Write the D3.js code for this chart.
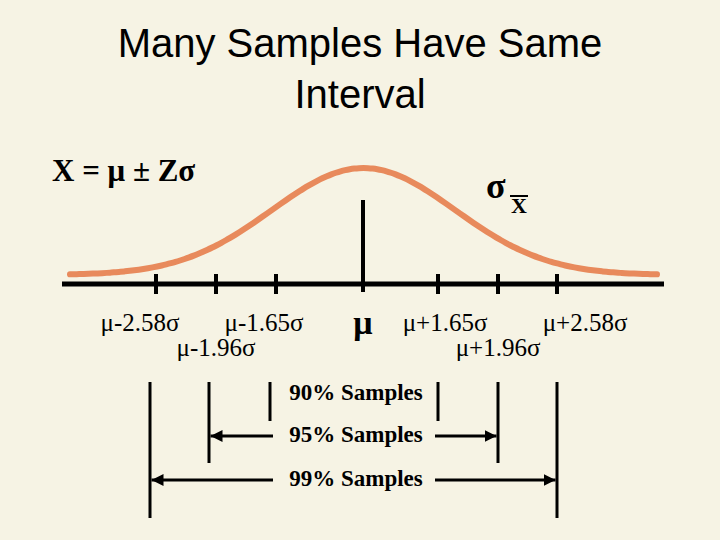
<!DOCTYPE html><html><head><meta charset="utf-8"><script src="https://cdn.jsdelivr.net/npm/d3@7"></script>
<style>body{margin:0;background:#f6f3e4}</style></head><body><svg id="c" width="720" height="540"></svg><script>
const zTicks=[-2.58,-1.96,-1.65,0,1.65,1.96,2.58];
const tickPix=[156,216,276,363,438,498,557];
const labels=[{t:"μ-2.58σ",z:-2.58,row:0,dx:-16},{t:"μ-1.96σ",z:-1.96,row:1,dx:0},{t:"μ-1.65σ",z:-1.65,row:0,dx:-12},{t:"μ+1.65σ",z:1.65,row:0,dx:7},{t:"μ+1.96σ",z:1.96,row:1,dx:0},{t:"μ+2.58σ",z:2.58,row:0,dx:28}];
const intervals=[{p:"90% Samples",z:1.65,b:400,bottom:421,arrow:false},{p:"95% Samples",z:1.96,b:442,bottom:463,arrow:true},{p:"99% Samples",z:2.58,b:486,bottom:518,arrow:true}];
const svg=d3.select("#c");
svg.append("rect").attr("width",720).attr("height",540).attr("fill","#f6f3e4");
const defs=svg.append("defs");
defs.append("marker").attr("id","ar").attr("viewBox","0 0 10 10").attr("refX",10).attr("refY",5).attr("markerWidth",4).attr("markerHeight",4).attr("orient","auto-start-reverse").append("path").attr("d","M0,0L10,5L0,10z").attr("fill","#000");
const x=d3.scaleLinear().domain(zTicks).range(tickPix);
const xc=d3.scaleLinear().domain([-3.2,3.2]).range([70,657]);
const pdf=z=>Math.exp(-z*z/2);
const yc=d3.scaleLinear().domain([0,1]).range([275,168]);
const pts=d3.range(-3.2,3.2001,0.05);
svg.append("path").datum(pts).attr("d",d3.line().x(z=>xc(z)).y(z=>yc(pdf(z))).curve(d3.curveBasis)).attr("fill","none").attr("stroke","#e88a5c").attr("stroke-width",6).attr("stroke-linecap","round");
const ay=284;
svg.append("line").attr("x1",62).attr("x2",664).attr("y1",ay).attr("y2",ay).attr("stroke","#000").attr("stroke-width",5);
zTicks.forEach(z=>{if(z===0)svg.append("line").attr("x1",x(0)).attr("x2",x(0)).attr("y1",200).attr("y2",292).attr("stroke","#000").attr("stroke-width",4);
 else svg.append("line").attr("x1",x(z)).attr("x2",x(z)).attr("y1",274).attr("y2",294).attr("stroke","#000").attr("stroke-width",4);});
const T=(s,xx,yy,size,anchor,fam,w)=>svg.append("text").attr("x",xx).attr("y",yy).attr("font-size",size).attr("text-anchor",anchor||"middle").attr("font-family",fam||"Liberation Serif").attr("font-weight",w||"normal").text(s);
T("Many Samples Have Same",360,57,40,"middle","Liberation Sans");
T("Interval",360,108,40,"middle","Liberation Sans");
T("X = μ ± Zσ",52,181,31,"start","Liberation Serif","bold");
T("σ",486,198,36,"start","Liberation Serif","bold");
T("X",511,213,22,"start","Liberation Serif","bold");
svg.append("line").attr("x1",510).attr("x2",528).attr("y1",196).attr("y2",196).attr("stroke","#000").attr("stroke-width",2);
labels.forEach(l=>T(l.t,x(l.z)+l.dx,l.row?356:331,25,"middle","Liberation Serif"));
T("μ",x(0),334,34,"middle","Liberation Serif","bold");
intervals.forEach(iv=>{
 T(iv.p,x(0)-7,iv.b,23,"middle","Liberation Serif","bold");
 [-1,1].forEach(s=>{const xx=x(s*iv.z)+(s<0&&iv.z===1.65?-6:0)+(s<0&&iv.z===1.96?-7:0)+(s<0&&iv.z===2.58?-6:0);
  svg.append("line").attr("x1",xx).attr("x2",xx).attr("y1",382).attr("y2",iv.bottom).attr("stroke","#000").attr("stroke-width",3);
  if(iv.arrow){const ya=iv.b-6;const inner=s<0?x(0)-90:x(0)+72;
   svg.append("line").attr("x1",inner).attr("x2",xx-s*1.5).attr("y1",ya).attr("y2",ya).attr("stroke","#000").attr("stroke-width",3).attr("marker-end","url(#ar)");}});
});
</script></body></html>
